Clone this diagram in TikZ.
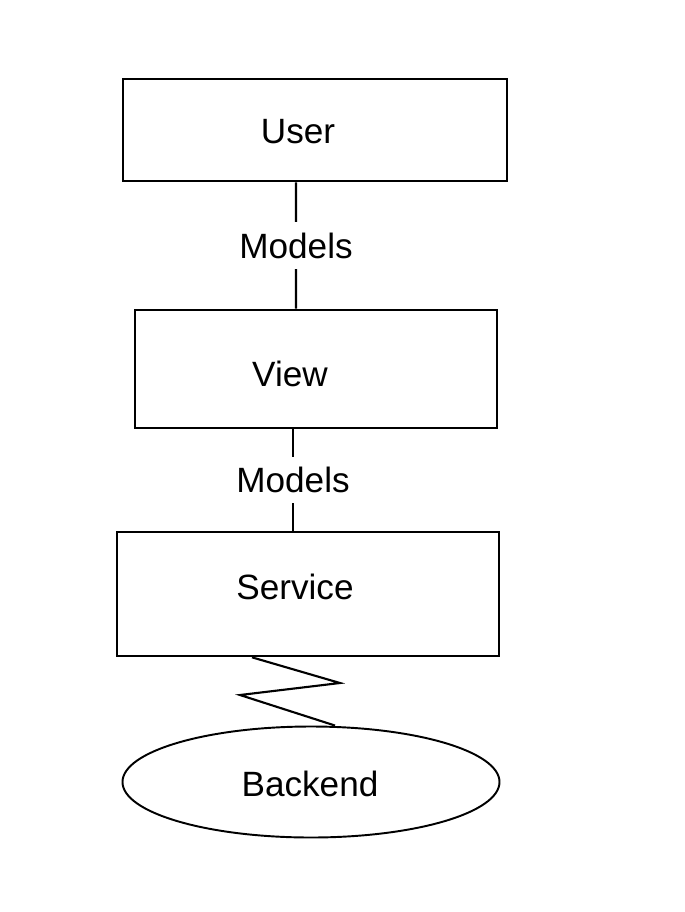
\documentclass[tikz,border=0pt]{standalone}
\usepackage{fontspec}
\setmainfont{Liberation Sans}
\usepackage{tikz}
\usetikzlibrary{positioning,shapes.geometric}

\begin{document}
\begin{tikzpicture}[
  font=\fontsize{10}{12}\selectfont,
  line/.style={line width=0.6pt, draw=black},
  box/.style={draw=black, line width=0.75pt, inner sep=0pt},
  blob/.style={ellipse, draw=black, line width=0.55pt, inner sep=0pt},
  lbl/.style={fill=white, inner xsep=1pt, inner ysep=3pt}
]
\useasboundingbox (0,0) rectangle (6.84,-9.12);

% Boxes
\node[box, minimum width=3.84cm, minimum height=1.02cm] (user) at (3.15,-1.30) {};
\node[box, minimum width=3.62cm, minimum height=1.18cm] (view) at (3.16,-3.69) {};
\node[box, minimum width=3.82cm, minimum height=1.24cm] (service) at (3.08,-5.94) {};
\node[blob, minimum width=3.77cm, minimum height=1.11cm] (backend) at (3.11,-7.82) {};

% Texts
\node (usertxt) at (2.98,-1.32) {User};
\node (viewtxt) at (2.90,-3.74) {View};
\node (servicetxt) at (2.95,-5.87) {Service};
\node (backendtxt) at (3.10,-7.84) {Backend};

% Links
\draw[line] ([xshift=-0.19cm]user.south) -- node[lbl] {Models} ([xshift=-0.20cm]view.north);
\draw[line] ([xshift=-0.23cm]view.south) -- node[lbl] {Models} ([xshift=-0.15cm]service.north);

% Lightning link to backend
\coordinate (z1) at (3.40,-6.83);
\coordinate (z2) at (2.40,-6.95);
\draw[line] ([xshift=-0.56cm]service.south) -- (z1) -- (z2) -- ([xshift=0.24cm]backend.north);
\end{tikzpicture}
\end{document}
